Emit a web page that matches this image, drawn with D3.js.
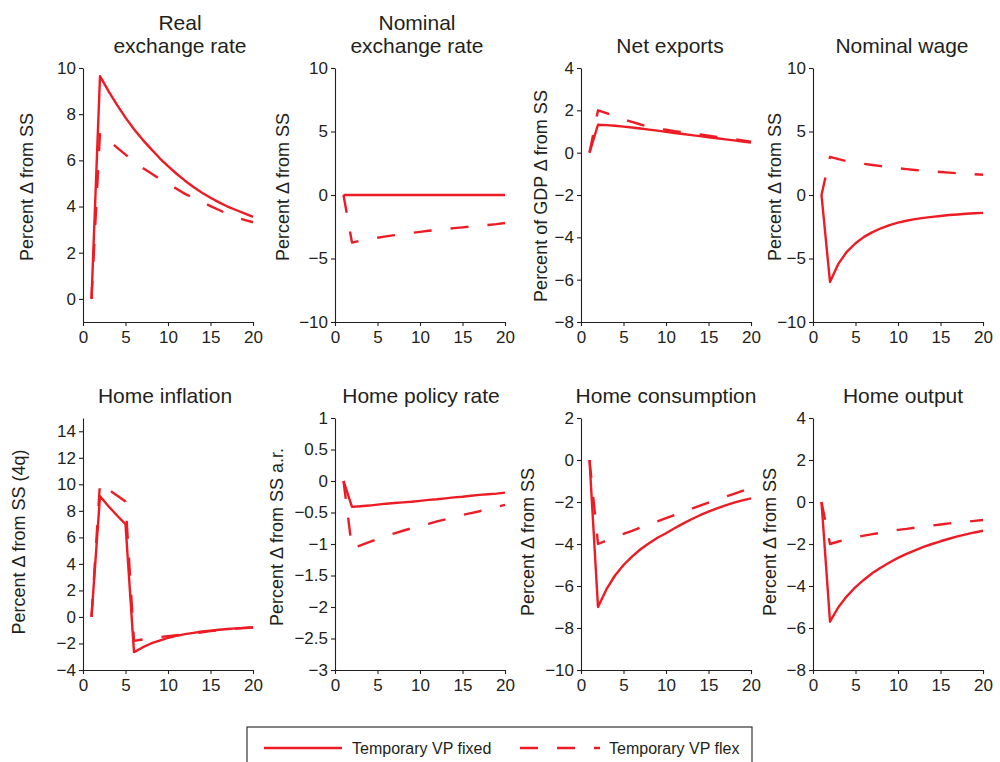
<!DOCTYPE html>
<html lang="en">
<head>
<meta charset="UTF-8">
<title>Temporary VP fixed vs flex</title>
<script src="https://cdn.jsdelivr.net/npm/d3@7"></script>
<style>
  body { margin: 0; background: #fff; }
  svg text { font-family: "Liberation Sans", Arial, Helvetica, sans-serif; fill: #231f20; }
  .axis path, .axis line { stroke: #231f20; stroke-width: 1.1; fill: none; }
  .axis text { font-size: 17px; }
  .title { font-size: 21px; text-anchor: middle; }
  .ylab { font-size: 18px; text-anchor: middle; }
  .legend text { font-size: 16px; }
  .fixed, .flex { fill: none; stroke: #ed1c24; stroke-width: 2.4; stroke-linejoin: round; }
  .flex { stroke-dasharray: 18, 19; }
</style>
</head>
<body>
<div id="chart"></div>
<script>
// quarters after the shock
const quarters = [1, 2, 3, 4, 5, 6, 7, 8, 9, 10, 11, 12, 13, 14, 15, 16, 17, 18, 19, 20];
const xTicks = [0, 5, 10, 15, 20];

// real exchange rate
const rerFixed = [0, 9.65, 9.0, 8.4, 7.85, 7.35, 6.9, 6.5, 6.1, 5.75, 5.42, 5.12, 4.85, 4.6, 4.38, 4.18, 4.0, 3.85, 3.7, 3.55];
const rerFlex = [0, 7.2, 6.9, 6.55, 6.25, 5.95, 5.68, 5.44, 5.2, 5.0, 4.77, 4.55, 4.37, 4.2, 4.02, 3.85, 3.68, 3.53, 3.42, 3.32];
const rerTicks = [0, 2, 4, 6, 8, 10];

// nominal exchange rate
const nerFixed = [0, 0, 0, 0, 0, 0, 0, 0, 0, 0, 0, 0, 0, 0, 0, 0, 0, 0, 0, 0];
const nerFlex = [0, -3.75, -3.6, -3.48, -3.37, -3.26, -3.16, -3.07, -2.98, -2.9, -2.82, -2.75, -2.68, -2.61, -2.55, -2.48, -2.42, -2.36, -2.29, -2.2];
const nerTicks = [-10, -5, 0, 5, 10];

// net exports
const nxFixed = [0, 1.32, 1.3, 1.27, 1.23, 1.19, 1.14, 1.09, 1.04, 0.98, 0.93, 0.88, 0.83, 0.78, 0.73, 0.68, 0.63, 0.58, 0.53, 0.48];
const nxFlex = [0, 2.0, 1.87, 1.72, 1.57, 1.45, 1.33, 1.22, 1.14, 1.08, 1.02, 0.97, 0.92, 0.86, 0.8, 0.74, 0.69, 0.64, 0.58, 0.52];
const nxTicks = [-8, -6, -4, -2, 0, 2, 4];

// nominal wage
const wageFixed = [0, -6.85, -5.4, -4.45, -3.8, -3.3, -2.92, -2.62, -2.37, -2.18, -2.03, -1.9, -1.8, -1.72, -1.65, -1.58, -1.53, -1.48, -1.44, -1.41];
const wageFlex = [0, 3.0, 2.82, 2.66, 2.54, 2.45, 2.36, 2.27, 2.18, 2.11, 2.04, 1.97, 1.91, 1.86, 1.81, 1.76, 1.71, 1.67, 1.64, 1.6];
const wageTicks = [-10, -5, 0, 5, 10];

// home inflation
const inflFixed = [0, 9.1, 8.35, 7.65, 7.0, -2.65, -2.3, -2.0, -1.78, -1.58, -1.43, -1.3, -1.2, -1.1, -1.03, -0.97, -0.91, -0.86, -0.82, -0.78];
const inflFlex = [0, 10.1, 9.6, 9.15, 8.7, -1.8, -1.7, -1.6, -1.52, -1.45, -1.38, -1.32, -1.25, -1.15, -1.07, -1.0, -0.93, -0.88, -0.83, -0.8];
const inflTicks = [-4, -2, 0, 2, 4, 6, 8, 10, 12, 14];

// home policy rate
const rateFixed = [0, -0.41, -0.4, -0.39, -0.375, -0.36, -0.35, -0.34, -0.33, -0.315, -0.3, -0.29, -0.275, -0.26, -0.25, -0.235, -0.22, -0.21, -0.2, -0.185];
const rateFlex = [0, -1.07, -1.02, -0.97, -0.92, -0.87, -0.83, -0.79, -0.75, -0.71, -0.68, -0.64, -0.61, -0.58, -0.54, -0.51, -0.48, -0.44, -0.41, -0.38];
const rateTicks = [-3, -2.5, -2, -1.5, -1, -0.5, 0, 0.5, 1];

// home consumption
const consFixed = [0, -7.0, -6.15, -5.5, -5.0, -4.6, -4.25, -3.96, -3.7, -3.49, -3.25, -3.03, -2.82, -2.63, -2.46, -2.3, -2.16, -2.03, -1.92, -1.83];
const consFlex = [0, -4.0, -3.83, -3.67, -3.52, -3.38, -3.22, -3.07, -2.92, -2.77, -2.62, -2.47, -2.32, -2.17, -2.03, -1.89, -1.75, -1.61, -1.47, -1.33];
const consTicks = [-10, -8, -6, -4, -2, 0, 2];

// home output
const outFixed = [0, -5.7, -5.0, -4.48, -4.05, -3.7, -3.38, -3.12, -2.88, -2.66, -2.47, -2.3, -2.14, -2.0, -1.87, -1.75, -1.64, -1.54, -1.45, -1.37];
const outFlex = [0, -2.0, -1.88, -1.77, -1.68, -1.6, -1.53, -1.46, -1.4, -1.33, -1.28, -1.22, -1.17, -1.12, -1.07, -1.02, -0.98, -0.94, -0.9, -0.86];
const outTicks = [-8, -6, -4, -2, 0, 2, 4];

const legendLabels = ["Temporary VP fixed", "Temporary VP flex"];

// layout
const colX = [83, 335, 581, 813];
const plotW = 170;
const rowTop = [68, 418];
const rowBottom = [322, 670];

const panels = [
  { title: ["Real", "exchange rate"], ylab: "Percent \u0394 from SS", domain: [-1, 10], ticks: rerTicks, fixed: rerFixed, flex: rerFlex, col: 0, row: 0, tx: 180, lx: 27, ly: 187 },
  { title: ["Nominal", "exchange rate"], ylab: "Percent \u0394 from SS", domain: [-10, 10], ticks: nerTicks, fixed: nerFixed, flex: nerFlex, col: 1, row: 0, tx: 417, lx: 283, ly: 187 },
  { title: ["Net exports"], ylab: "Percent of GDP \u0394 from SS", domain: [-8, 4], ticks: nxTicks, fixed: nxFixed, flex: nxFlex, col: 2, row: 0, tx: 670, lx: 541, ly: 196 },
  { title: ["Nominal wage"], ylab: "Percent \u0394 from SS", domain: [-10, 10], ticks: wageTicks, fixed: wageFixed, flex: wageFlex, col: 3, row: 0, tx: 902, lx: 775, ly: 187 },
  { title: ["Home inflation"], ylab: "Percent \u0394 from SS (4q)", domain: [-4, 15], ticks: inflTicks, fixed: inflFixed, flex: inflFlex, col: 0, row: 1, tx: 165, lx: 19, ly: 542 },
  { title: ["Home policy rate"], ylab: "Percent \u0394 from SS a.r.", domain: [-3, 1], ticks: rateTicks, fixed: rateFixed, flex: rateFlex, col: 1, row: 1, tx: 421, lx: 277, ly: 537 },
  { title: ["Home consumption"], ylab: "Percent \u0394 from SS", domain: [-10, 2], ticks: consTicks, fixed: consFixed, flex: consFlex, col: 2, row: 1, tx: 666, lx: 528, ly: 542 },
  { title: ["Home output"], ylab: "Percent \u0394 from SS", domain: [-8, 4], ticks: outTicks, fixed: outFixed, flex: outFlex, col: 3, row: 1, tx: 903, lx: 770, ly: 542 }
];

const svg = d3.select("#chart").append("svg")
  .attr("width", 1000)
  .attr("height", 762);

const fmt = d3.format("~g");

panels.forEach(p => {
  const x0 = colX[p.col];
  const x = d3.scaleLinear().domain([0, 20]).range([x0, x0 + plotW]);
  const y = d3.scaleLinear().domain(p.domain).range([rowBottom[p.row], rowTop[p.row]]);

  svg.append("g").attr("class", "axis")
    .attr("transform", `translate(${x0},0)`)
    .call(d3.axisLeft(y).tickValues(p.ticks).tickFormat(fmt).tickSize(4).tickSizeOuter(0).tickPadding(3));

  svg.append("g").attr("class", "axis")
    .attr("transform", `translate(0,${rowBottom[p.row]})`)
    .call(d3.axisBottom(x).tickValues(xTicks).tickFormat(fmt).tickSize(4).tickSizeOuter(0).tickPadding(5));

  const line = d3.line()
    .x((d, i) => x(quarters[i]))
    .y(d => y(d));

  svg.append("path").attr("class", "flex").attr("d", line(p.flex));
  svg.append("path").attr("class", "fixed").attr("d", line(p.fixed));

  // title, last line sits just above the plot
  const base = rowTop[p.row] - 15;
  const t = svg.append("text").attr("class", "title").attr("x", p.tx);
  p.title.forEach((s, i) => {
    t.append("tspan")
      .attr("x", p.tx)
      .attr("y", base - (p.title.length - 1 - i) * 23)
      .text(s);
  });

  svg.append("text").attr("class", "ylab")
    .attr("transform", `translate(${p.lx},${p.ly}) rotate(-90)`)
    .attr("dy", "0.35em")
    .text(p.ylab);
});

// legend
const lg = svg.append("g").attr("class", "legend");
lg.append("rect")
  .attr("x", 247).attr("y", 727).attr("width", 505).attr("height", 45)
  .attr("fill", "none").attr("stroke", "#231f20").attr("stroke-width", 1.1);
lg.append("line").attr("class", "fixed").attr("x1", 264).attr("x2", 342).attr("y1", 748).attr("y2", 748);
lg.append("text").attr("x", 352).attr("y", 754).text(legendLabels[0]);
lg.append("line").attr("class", "flex").attr("x1", 520).attr("x2", 600).attr("y1", 748).attr("y2", 748);
lg.append("text").attr("x", 609).attr("y", 754).text(legendLabels[1]);
</script>
</body>
</html>
